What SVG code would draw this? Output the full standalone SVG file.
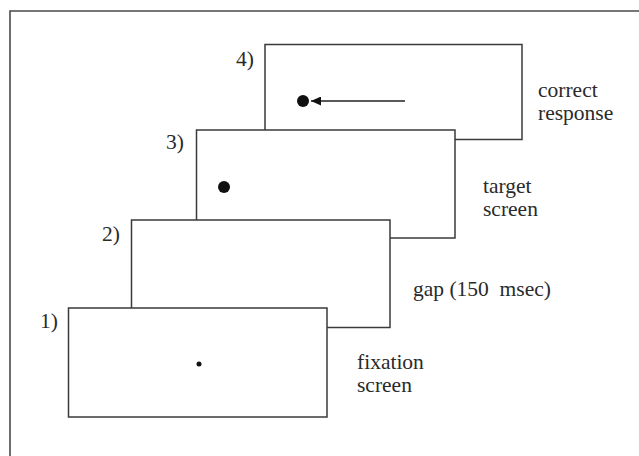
<svg xmlns="http://www.w3.org/2000/svg" width="639" height="456" viewBox="0 0 639 456">
  <style>
    .screen { fill: #fff; stroke: #3a3a3a; stroke-width: 1.5; }
    .frame { fill: none; stroke: #4a4a4a; stroke-width: 1.6; }
    text { font-family: "Liberation Serif", "Times New Roman", serif; font-size: 21.5px; fill: #2a2a2a; }
    .dot { fill: #111; }
    .conn { stroke: #222; stroke-width: 1.5; fill: none; }
  </style>
  <defs>
    <marker id="arrowhead" viewBox="0 0 10 10" refX="10" refY="5" markerWidth="10" markerHeight="9" markerUnits="userSpaceOnUse" orient="auto" preserveAspectRatio="none">
      <path d="M0,0 L10,5 L0,10 Z" fill="#111"/>
    </marker>
  </defs>
  <rect width="639" height="456" fill="#fff"/>
  <!-- outer frame (open to the right and bottom) -->
  <path class="frame" d="M10,456 V11 H639"/>

  <!-- screens, back to front -->
  <g id="screen4">
    <rect class="screen" x="265" y="44.5" width="257" height="95"/>
    <circle class="dot" cx="303" cy="101" r="6"/>
    <text x="236" y="66">4)</text>
    <text x="538" y="97">correct</text>
    <text x="538" y="120">response</text>
  </g>
  <g id="screen3">
    <rect class="screen" x="196.5" y="130" width="258.5" height="108"/>
    <circle class="dot" cx="224" cy="187" r="6"/>
    <text x="166" y="149">3)</text>
    <text x="483" y="193">target</text>
    <text x="483" y="216">screen</text>
  </g>
  <g id="screen2">
    <rect class="screen" x="131.5" y="220" width="258.5" height="107.5"/>
    <text x="102" y="241">2)</text>
    <text x="413" y="296" xml:space="preserve">gap (150  msec)</text>
  </g>
  <g id="screen1">
    <rect class="screen" x="68.5" y="308" width="258.5" height="109"/>
    <circle class="dot" cx="199" cy="364" r="2.5"/>
    <text x="40" y="328">1)</text>
    <text x="357" y="369">fixation</text>
    <text x="357" y="392">screen</text>
  </g>

  <g id="connectors">
    <line class="conn" x1="405" y1="101" x2="311" y2="101" marker-end="url(#arrowhead)"/>
  </g>
</svg>
